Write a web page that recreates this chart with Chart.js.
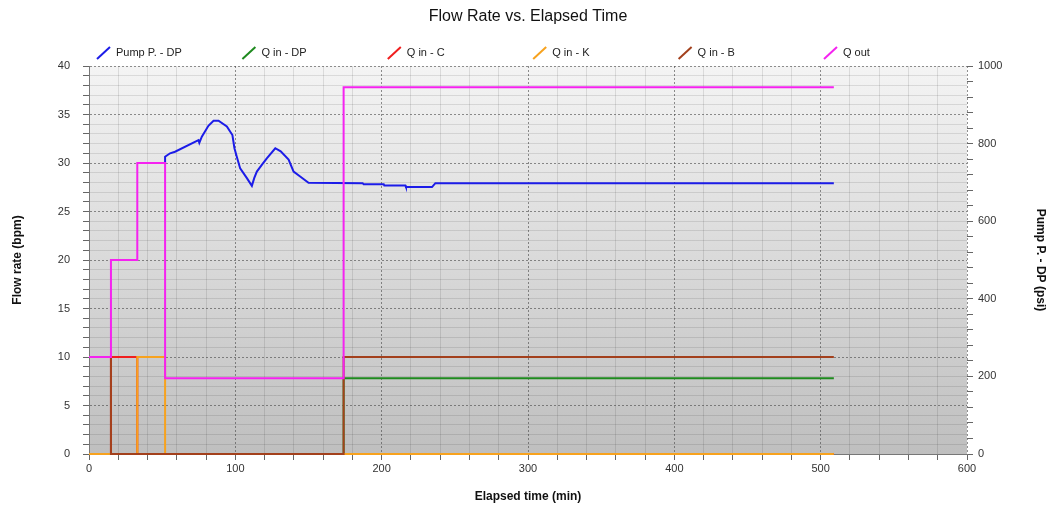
<!DOCTYPE html>
<html>
<head>
<meta charset="utf-8">
<script src="https://cdn.jsdelivr.net/npm/chart.js@4.4.0/dist/chart.umd.min.js"></script>
<style>
  html, body { margin: 0; padding: 0; background: #fff; }
</style>
</head>
<body>
<canvas id="flow-chart" width="1049" height="506"></canvas>
<script>
// values
var seriesNames = ["Pump P. - DP", "Q in - DP", "Q in - C", "Q in - K", "Q in - B", "Q out"];
var seriesColors = ["#1c1ce8", "#1e8a1e", "#f01e1e", "#f7a21e", "#a3401c", "#f522f0"];

// pump pressure, psi (right axis)
var pumpTime = [52, 52, 55.4, 58.8, 74.8, 75.4, 77.1, 81.6, 85.1, 88.5, 94.2, 98, 99.4, 101, 103.3, 107.9, 111.3, 112.9, 114.7, 118.1, 121.5, 127.3, 131, 136.4, 139.8, 144.3, 150, 187, 187.7, 201.4, 201.8, 216.2, 216.6, 234.4, 236.7, 509];
var pumpPsi  = [750, 766, 775, 779, 809, 802, 818, 846, 859, 859, 844, 822, 788, 766, 736, 711, 691, 711, 728, 745, 762, 788, 780, 759, 728, 715, 699, 698, 695, 695, 692, 692, 688, 688, 698, 698];

// flow rates, bpm (left axis), each value holds from its time to the next
var qinDpTime = [0, 174, 509];
var qinDp     = [0, 7.8, 7.8];
var qinCTime  = [0, 15, 33, 509];
var qinC      = [0, 10, 0, 0];
var qinKTime  = [0, 33, 52, 509];
var qinK      = [0, 10, 0, 0];
var qinBTime  = [0, 15, 174, 509];
var qinB      = [10, 0, 10, 10];
var qoutTime  = [0, 15, 33, 52, 174, 509];
var qout      = [10, 20, 30, 7.8, 37.8, 37.8];

var fontFamily = "'Liberation Sans', Arial, sans-serif";

function pts(xs, ys) {
  return xs.map(function (x, i) { return { x: x, y: ys[i] }; });
}

function gridColor(majorEvery) {
  return function (ctx) {
    if (!ctx.tick) return '#999';
    return ctx.tick.value % majorEvery === 0 ? 'rgba(70,70,70,0.6)' : 'rgba(0,0,0,0.10)';
  };
}
function gridDash(majorEvery) {
  return function (ctx) {
    if (!ctx.tick) return [];
    return ctx.tick.value % majorEvery === 0 ? [2, 2] : [];
  };
}

var bgPlugin = {
  id: 'plotBackground',
  beforeDraw: function (chart) {
    var c = chart.ctx, a = chart.chartArea;
    c.save();
    c.fillStyle = '#fff';
    c.fillRect(0, 0, chart.width, chart.height);
    var g = c.createLinearGradient(0, a.top, 0, a.bottom);
    g.addColorStop(0, '#f4f4f4');
    g.addColorStop(1, '#bfbfbf');
    c.fillStyle = g;
    c.fillRect(a.left, a.top, a.right - a.left, a.bottom - a.top);
    c.restore();
  }
};

var headerPlugin = {
  id: 'header',
  afterDraw: function (chart) {
    var c = chart.ctx;
    c.save();
    c.fillStyle = '#111';
    c.font = "16px " + fontFamily;
    c.textAlign = 'center';
    c.textBaseline = 'middle';
    c.fillText('Flow Rate vs. Elapsed Time', 528, 17);

    c.font = "11px " + fontFamily;
    c.textAlign = 'left';
    for (var i = 0; i < seriesNames.length; i++) {
      var x = 97 + i * 145.4;
      c.strokeStyle = seriesColors[i];
      c.lineWidth = 2;
      c.beginPath();
      c.moveTo(x, 59);
      c.lineTo(x + 13, 47);
      c.stroke();
      c.fillStyle = '#222';
      c.fillText(seriesNames[i], x + 19, 53);
    }
    c.restore();
  }
};

function stepSet(idx, xs, ys, order) {
  return {
    label: seriesNames[idx],
    data: pts(xs, ys),
    borderColor: seriesColors[idx],
    backgroundColor: seriesColors[idx],
    borderWidth: 2,
    pointRadius: 0,
    stepped: 'before',
    clip: false,
    yAxisID: 'y',
    order: order
  };
}

var ctx = document.getElementById("flow-chart");
var flowChart = new Chart(ctx, {
  type: 'line',
  data: {
    datasets: [
      {
        label: seriesNames[0],
        data: pts(pumpTime, pumpPsi),
        borderColor: seriesColors[0],
        backgroundColor: seriesColors[0],
        borderWidth: 2,
        pointRadius: 0,
        tension: 0,
        yAxisID: 'y2',
        order: 5
      },
      stepSet(1, qinDpTime, qinDp, 4),
      stepSet(2, qinCTime, qinC, 3),
      stepSet(3, qinKTime, qinK, 2),
      stepSet(4, qinBTime, qinB, 1),
      stepSet(5, qoutTime, qout, 0)
    ]
  },
  options: {
    responsive: false,
    animation: false,
    layout: { padding: { top: 66, left: 0, right: 0, bottom: 0 } },
    plugins: {
      legend: { display: false },
      title: { display: false },
      tooltip: { enabled: false }
    },
    scales: {
      x: {
        type: 'linear',
        min: 0,
        max: 600,
        ticks: {
          stepSize: 20,
          autoSkip: false,
          maxRotation: 0,
          padding: 2,
          color: '#333',
          font: { family: fontFamily, size: 11 },
          callback: function (v) { return v % 100 === 0 ? v : ''; }
        },
        grid: { color: gridColor(100), tickColor: '#666', tickLength: 6 },
        border: { color: '#777', dash: gridDash(100) },
        title: {
          display: true,
          text: 'Elapsed time (min)',
          color: '#111',
          font: { family: fontFamily, size: 12, weight: 'bold' },
          padding: { top: 4, bottom: 2 }
        },
        afterFit: function (s) { s.height = 52; }
      },
      y: {
        position: 'left',
        min: 0,
        max: 40,
        ticks: {
          stepSize: 1,
          autoSkip: false,
          padding: 13,
          color: '#333',
          font: { family: fontFamily, size: 11 },
          callback: function (v) { return v % 5 === 0 ? v : ''; }
        },
        grid: { color: gridColor(5), tickColor: '#666', tickLength: 6 },
        border: { color: '#777', dash: gridDash(5) },
        title: {
          display: true,
          text: 'Flow rate (bpm)',
          color: '#111',
          font: { family: fontFamily, size: 12, weight: 'bold' },
          padding: { top: 10, bottom: 0 }
        },
        afterFit: function (s) { s.width = 89; }
      },
      y2: {
        position: 'right',
        min: 0,
        max: 1000,
        ticks: {
          stepSize: 40,
          autoSkip: false,
          padding: 5,
          color: '#333',
          font: { family: fontFamily, size: 11 },
          callback: function (v) { return v % 200 === 0 ? v : ''; }
        },
        grid: { drawOnChartArea: false, tickColor: '#666', tickLength: 6 },
        border: { display: false },
        title: {
          display: true,
          text: 'Pump P. - DP (psi)',
          color: '#111',
          font: { family: fontFamily, size: 12, weight: 'bold' },
          padding: { top: 1, bottom: 0 }
        },
        afterFit: function (s) { s.width = 82; }
      }
    }
  },
  plugins: [bgPlugin, headerPlugin]
});
</script>
</body>
</html>
